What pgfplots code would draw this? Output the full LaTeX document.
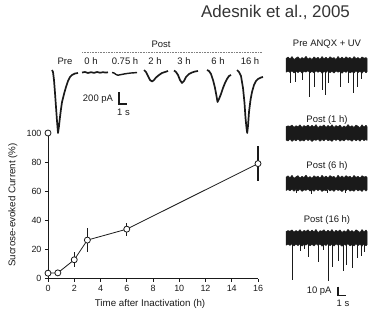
\documentclass[border=0pt]{standalone}
\usepackage{pgfplots}
\pgfplotsset{compat=1.18}
\usepackage{fontspec}
\setmainfont{Liberation Sans}
\definecolor{ink}{HTML}{1A1A1A}
\definecolor{ttl}{HTML}{333333}
\newcommand{\sm}{\fontsize{9.5}{11}\selectfont}
\begin{document}
\begin{tikzpicture}
\useasboundingbox (0bp,0bp) rectangle (368bp,312bp);
% ---------- overlay axis in picture units (traces, labels) ----------
\begin{axis}[at={(0bp,0bp)}, anchor=south west, scale only axis,
  width=368bp, height=312bp, xmin=0, xmax=368, ymin=0, ymax=312,
  y dir=reverse, hide axis, clip=false]
% title
\node[font=\fontsize{17}{20}\selectfont, text=ttl, anchor=base] at (275.5,18) {Adesnik et al., 2005};
% Post header
\node[font=\sm, text=ink] at (161,44) {Post};
\addplot[gray, line width=0.7bp, dash pattern=on 0.7bp off 0.9bp] coordinates {(82,52.5) (262,52.5)};
\node[font=\sm, text=ink] at (65,61) {Pre};
\node[font=\sm, text=ink] at (91,61) {0 h};
\node[font=\sm, text=ink] at (125,61) {0.75 h};
\node[font=\sm, text=ink] at (155,61) {2 h};
\node[font=\sm, text=ink] at (184,61) {3 h};
\node[font=\sm, text=ink] at (218,61) {6 h};
\node[font=\sm, text=ink] at (250,61) {16 h};
% sucrose-evoked current traces
\addplot[ink, line width=1.7bp, line join=round] coordinates {
 (52,70) (53,72) (54,80) (55,93) (56,107) (57,121) (58,133) (59,126) (60,117)
 (61,109) (62,102) (64,94) (66,87) (68,81) (70,77) (72,75) (75,73.5) (78,73)};
\addplot[ink, line width=1.7bp, line join=round] coordinates {
 (82,72.5) (85,72) (88,73) (91,72.2) (94,72.9) (97,72) (100,72.7) (103,72.2) (106,72.6) (108,72.3)};
\addplot[ink, line width=1.4bp, line join=round] coordinates {
 (112,72.5) (114,73) (116,74.5) (118,75.2) (121,74.6) (124,74) (127,73.5) (131,73) (134,72.8) (137,72.5)};
\addplot[ink, line width=1.7bp, line join=round] coordinates {
 (144,70) (146,72) (148,76) (150,80) (152,81.5) (154,80) (156,77.5) (159,75) (162,73) (165,72) (168,71)};
\addplot[ink, line width=1.7bp, line join=round] coordinates {
 (174,70.5) (176,72) (178,75) (180,80) (182,83) (184,81) (186,77) (189,74) (192,72.5) (195,71.5) (198,71)};
\addplot[ink, line width=1.7bp, line join=round] coordinates {
 (207,70) (209,71) (211,74) (213,80) (215,88) (216.5,96) (217.5,102) (219,99) (221,94) (223,88) (225,83) (227,79) (229,76) (231,75)};
\addplot[ink, line width=1.7bp, line join=round] coordinates {
 (237,70) (239,72) (241,76) (243,88) (244.5,103) (245.5,118) (246.5,128) (247.2,133) (248,126) (249,112) (250.5,100) (252,92) (254,85) (256,81) (258,79) (261,77.5) (263,77)};
% scale bar 200 pA / 1 s
\addplot[ink, line width=1.1bp] coordinates {(119,92.5) (119,104) (126.5,104)};
\node[font=\sm, text=ink, anchor=east] at (116.5,99) {200 pA};
\node[font=\sm, text=ink] at (123.5,112) {1 s};
% ---------- right panel: spontaneous traces ----------
\node[font=\sm, text=ink] at (327,44) {Pre ANQX + UV};
\addplot[fill=ink, draw=ink, line width=0.5bp, line join=bevel] coordinates {
 (286,58.5) (288,57) (290,59) (292,56.5) (294,59.5) (296,58) (298,56.8) (300,59.3) (302,57.5) (304,58.7)
 (306,56.3) (308,59.1) (310,57.7) (312,59.5) (314,56.9) (316,58.5) (318,57.3) (320,59.4) (322,56.5) (324,58.8)
 (326,57.2) (328,59.2) (330,56.7) (332,58.3) (334,57.6) (336,59.6) (338,56.4) (340,58.9) (342,57.1) (344,59)
 (346,56.8) (348,58.4) (350,57.4) (352,59.3) (354,56.6) (356,58.6) (358,57.5) (360,59.2) (362,56.9) (364,58.2)
 (366,57.6) (367,58.5)
 (367,71.8) (366,72.8) (364,70.9) (362,73.2) (360,71.4) (358,72.6) (356,70.8) (354,73) (352,71.7) (350,72.9)
 (348,70.7) (346,72.4) (344,71.2) (342,73.3) (340,71.5) (338,72.2) (336,70.9) (334,73.1) (332,71.3) (330,72.7)
 (328,70.6) (326,72.5) (324,71.6) (322,73.2) (320,71) (318,72.3) (316,70.8) (314,73) (312,71.4) (310,72.8)
 (308,70.7) (306,72.1) (304,71.5) (302,73.1) (300,70.9) (298,72.6) (296,71.2) (294,73) (292,70.8) (290,72.4)
 (288,71.3) (286,72.2)} -- cycle;
\addplot[ink, line width=0.9bp, unbounded coords=jump] coordinates {
 (290,71) (290,83) (290,nan) (295,71) (295,82) (295,nan) (302,71) (302,80) (302,nan)
 (309,71) (309,97) (309,nan) (314,71) (314,87) (314,nan) (322,71) (322,90) (322,nan)
 (325,71) (325,95) (325,nan) (328,71) (328,83) (328,nan) (340,71) (340,87) (340,nan)
 (348,71) (348,83) (348,nan) (353,71) (353,93) (353,nan) (357,71) (357,87) (357,nan) (361,71) (361,79)};
\node[font=\sm, text=ink] at (327,120) {Post (1 h)};
\addplot[fill=ink, draw=ink, line width=0.5bp, line join=bevel] coordinates {
 (286,126.7) (288,125.8) (290,126.4) (292,125.1) (294,127.4) (296,125.7) (298,126.8) (300,124.8) (302,127.5) (304,125.6)
 (306,126.6) (308,125) (310,127.2) (312,125.3) (314,127.1) (316,124.6) (318,127.8) (320,125.8) (322,126.5) (324,124.9)
 (326,127.4) (328,125.4) (330,127) (332,124.7) (334,127.6) (336,125.5) (338,126.7) (340,125.1) (342,127.7) (344,125.9)
 (346,127.3) (348,124.5) (350,126.9) (352,125.7) (354,127.5) (356,125) (358,126.2) (360,127.7) (362,124.7) (364,127.2)
 (366,125.2) (367,126.7)
 (367,140.4) (366,139.5) (364,140.6) (362,139) (360,141.2) (358,139.4) (356,140.8) (354,139.1) (352,141.3) (350,139.7)
 (348,140.3) (346,138.9) (344,141) (342,139.6) (340,141.2) (338,139) (336,140.5) (334,139.2) (332,141.4) (330,139.8)
 (328,140.7) (326,138.8) (324,140.9) (322,139.5) (320,141.3) (318,139.1) (316,140.4) (314,139.7) (312,141.5) (310,139.4)
 (308,140.6) (306,138.9) (304,141.1) (302,139.9) (300,141.2) (298,139) (296,140.8) (294,139.6) (292,141.4) (290,139.1)
 (288,141) (286,140)} -- cycle;
\node[font=\sm, text=ink] at (327,166) {Post (6 h)};
\addplot[fill=ink, draw=ink, line width=0.5bp, line join=bevel] coordinates {
 (286,177.3) (288,175.8) (290,177.8) (292,175.3) (294,178.3) (296,176.8) (298,175.6) (300,178.1) (302,176.3) (304,177.5)
 (306,175.1) (308,177.9) (310,176.5) (312,178.3) (314,175.7) (316,177.3) (318,176.1) (320,178.2) (322,175.3) (324,177.6)
 (326,176) (328,178) (330,175.5) (332,177.1) (334,176.4) (336,178.4) (338,175.2) (340,177.7) (342,175.9) (344,177.8)
 (346,175.6) (348,177.2) (350,176.2) (352,178.1) (354,175.4) (356,177.4) (358,176.3) (360,178) (362,175.7) (364,177)
 (366,176.4) (367,177.3)
 (367,190.1) (366,191.1) (364,189.2) (362,191.5) (360,189.7) (358,190.9) (356,189.1) (354,191.3) (352,190) (350,191.2)
 (348,189) (346,190.7) (344,189.5) (342,191.6) (340,189.8) (338,190.5) (336,189.2) (334,191.4) (332,189.6) (330,191)
 (328,188.9) (326,190.8) (324,189.9) (322,191.5) (320,189.3) (318,190.6) (316,189.1) (314,191.3) (312,189.7) (310,191.1)
 (308,189) (306,190.4) (304,189.8) (302,191.4) (300,189.2) (298,190.9) (296,189.5) (294,191.3) (292,189.1) (290,190.7)
 (288,189.6) (286,190.5)} -- cycle;
\addplot[ink, line width=0.7bp, unbounded coords=jump] coordinates {
 (296,190) (296,193) (296,nan) (311,190) (311,193.5) (311,nan) (327,190) (327,192.5) (327,nan) (345,190) (345,193)};
\node[font=\sm, text=ink] at (327,220) {Post (16 h)};
\addplot[fill=ink, draw=ink, line width=0.5bp, line join=bevel] coordinates {
 (286,231.5) (288,230.6) (290,231.2) (292,229.9) (294,232.2) (296,230.5) (298,231.6) (300,229.6) (302,232.3) (304,230.4)
 (306,231.4) (308,229.8) (310,232) (312,230.1) (314,231.9) (316,229.4) (318,232.6) (320,230.6) (322,231.3) (324,229.7)
 (326,232.2) (328,230.2) (330,231.8) (332,229.5) (334,232.4) (336,230.3) (338,231.5) (340,229.9) (342,232.5) (344,230.7)
 (346,232.1) (348,229.3) (350,231.7) (352,230.5) (354,232.3) (356,229.8) (358,231) (360,232.5) (362,229.5) (364,232)
 (366,230) (367,231.5)
 (367,244.8) (366,245.8) (364,243.9) (362,246.2) (360,244.4) (358,245.6) (356,243.8) (354,246) (352,244.7) (350,245.9)
 (348,243.7) (346,245.4) (344,244.2) (342,246.3) (340,244.5) (338,245.2) (336,243.9) (334,246.1) (332,244.3) (330,245.7)
 (328,243.6) (326,245.5) (324,244.6) (322,246.2) (320,244) (318,245.3) (316,243.8) (314,246) (312,244.4) (310,245.8)
 (308,243.7) (306,245.1) (304,244.5) (302,246.1) (300,243.9) (298,245.6) (296,244.2) (294,246) (292,243.8) (290,245.4)
 (288,244.3) (286,245.2)} -- cycle;
\addplot[ink, line width=0.9bp, unbounded coords=jump] coordinates {
 (292,244) (292,280) (292,nan) (300,244) (300,251) (300,nan) (304,244) (304,249) (304,nan) (308,244) (308,257) (308,nan)
 (318,244) (318,262) (318,nan) (323,244) (323,250) (323,nan) (328,244) (328,281) (328,nan) (332,244) (332,267) (332,nan)
 (338,244) (338,261) (338,nan) (343,244) (343,271) (343,nan) (346,244) (346,265) (346,nan) (352,244) (352,268) (352,nan)
 (357,244) (357,258) (357,nan) (361,244) (361,256) (361,nan) (364,244) (364,252)};
% scale bar 10 pA / 1 s
\addplot[ink, line width=1.1bp] coordinates {(338,286.5) (338,295.5) (345.5,295.5)};
\node[font=\sm, text=ink, anchor=east] at (335,291.5) {10 pA};
\node[font=\sm, text=ink] at (343,303) {1 s};
\end{axis}
% ---------- main plot ----------
\begin{axis}[at={(48bp,33.3bp)}, anchor=south west, scale only axis,
  width=210bp, height=145.7bp,
  xmin=0, xmax=16, ymin=0, ymax=100,
  axis lines*=left, clip=false,
  tick align=outside, major tick length=3bp,
  xtick={0,2,...,16}, ytick={0,20,...,100},
  axis line style={ink, line width=0.8bp},
  tick style={ink, line width=0.8bp},
  /pgf/number format/assume math mode=true,
  tick label style={font=\fontsize{9}{10}\selectfont, text=ink},
  xlabel={Time after Inactivation (h)},
  ylabel={Sucrose-evoked Current (\%)},
  label style={font=\fontsize{9.8}{11}\selectfont, text=ink},
  xlabel style={at={(axis description cs:0.486,-0.174)}, anchor=center},
  ylabel style={at={(axis description cs:-0.167,0.506)}, anchor=center},
]
\addplot[ink, line width=0.8bp, mark=*, mark size=3bp,
  mark options={fill=white, draw=ink, line width=0.8bp},
  error bars/.cd, y dir=both, y explicit,
  error bar style={line width=1.3bp, ink}, error mark=none]
  coordinates {
  (0,3.8) +- (0,0)
  (0.75,4) +- (0,0)
  (2,13) +- (0,5)
  (3,26.5) +- (0,8.5)
  (6,34) +- (0,4.5)
  (16,79) +- (0,12)
  };
\addplot[only marks, mark=*, mark size=3bp,
  mark options={fill=white, draw=ink, line width=0.8bp}]
  coordinates {(0,100)};
\end{axis}
\end{tikzpicture}
\end{document}
